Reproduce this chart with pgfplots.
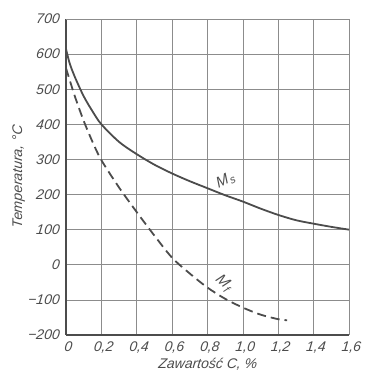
\documentclass[border=0pt]{standalone}
\usepackage{pgfplots}
\pgfplotsset{compat=1.18}
\usepackage{fontspec}
\setmainfont{Liberation Sans}[ItalicFeatures={FakeSlant=0.1}]
\definecolor{ink}{gray}{0.3}
\definecolor{gridc}{gray}{0.55}
\newcommand\tl[1]{\textit{#1}}
\begin{document}
\begin{tikzpicture}[x=1pt,y=1pt]
\begin{axis}[
  name=ax,
  scale only axis,
  width=283pt, height=316pt,
  xmin=0, xmax=1.6, ymin=-200, ymax=700,
  axis x line=bottom, axis y line=left,
  axis line style={ink, line width=1.2pt, -},
  xtick={0,0.2,...,1.6},
  xticklabels={\tl{0},\tl{0,2},\tl{0,4},\tl{0,6},\tl{0,8},\tl{1,0},\tl{1,2},\tl{1,4},\tl{1,6}},
  ytick={-200,-100,...,700},
  yticklabels={\tl{−200},\tl{−100},\tl{0},\tl{100},\tl{200},\tl{300},\tl{400},\tl{500},\tl{600},\tl{700}},
  grid=major,
  major grid style={gridc, line width=0.6pt},
  tick style={draw=none},
  /pgf/number format/assume math mode=true,
  xticklabel style={font=\fontsize{14}{14}\selectfont, text=ink, yshift=-1pt, xshift=2pt},
  yticklabel style={font=\fontsize{14}{14}\selectfont, text=ink, xshift=-1pt},
  xlabel={Zawartość C, \%},
  ylabel={Temperatura, °C},
  label style={font=\fontsize{14}{14}\selectfont\itshape, text=ink},
  xlabel style={yshift=2pt},
  ylabel style={yshift=-4pt},
]
\addplot[ink, line width=1.8pt, smooth, tension=0.5] coordinates {
 (0,615) (0.02,575) (0.05,535) (0.1,480) (0.15,437) (0.2,400) (0.3,350) (0.4,315) (0.5,285) (0.6,260) (0.7,238) (0.8,218) (0.9,198) (1.0,180) (1.1,160) (1.2,142) (1.3,127) (1.4,117) (1.5,108) (1.6,100)
};
\addplot[ink, line width=1.8pt, dash pattern=on 9pt off 5pt, smooth, tension=0.5] coordinates {
 (0,560) (0.05,480) (0.1,410) (0.15,350) (0.2,298) (0.3,220) (0.4,150) (0.5,83) (0.6,20) (0.7,-25) (0.8,-65) (0.9,-97) (1.0,-122) (1.1,-142) (1.2,-155) (1.25,-158)
};
\draw[gridc, line width=0.6pt] (rel axis cs:0,1) -- (rel axis cs:1,1) -- (rel axis cs:1,0);
\node[font=\fontsize{15}{15}\selectfont\itshape, text=ink, rotate=28] at (axis cs:0.9,240) {M\kern0.5pt\raisebox{-3pt}{\fontsize{11}{11}\selectfont s}};
\node[font=\fontsize{15}{15}\selectfont\itshape, text=ink, rotate=-40] at (axis cs:0.89,-52) {M\kern0.5pt\raisebox{-3pt}{\fontsize{11}{11}\selectfont f}};
\end{axis}
\pgfresetboundingbox
\useasboundingbox ([xshift=-66pt,yshift=-57pt]ax.south west) rectangle ([xshift=25pt,yshift=19pt]ax.north east);
\end{tikzpicture}
\end{document}
